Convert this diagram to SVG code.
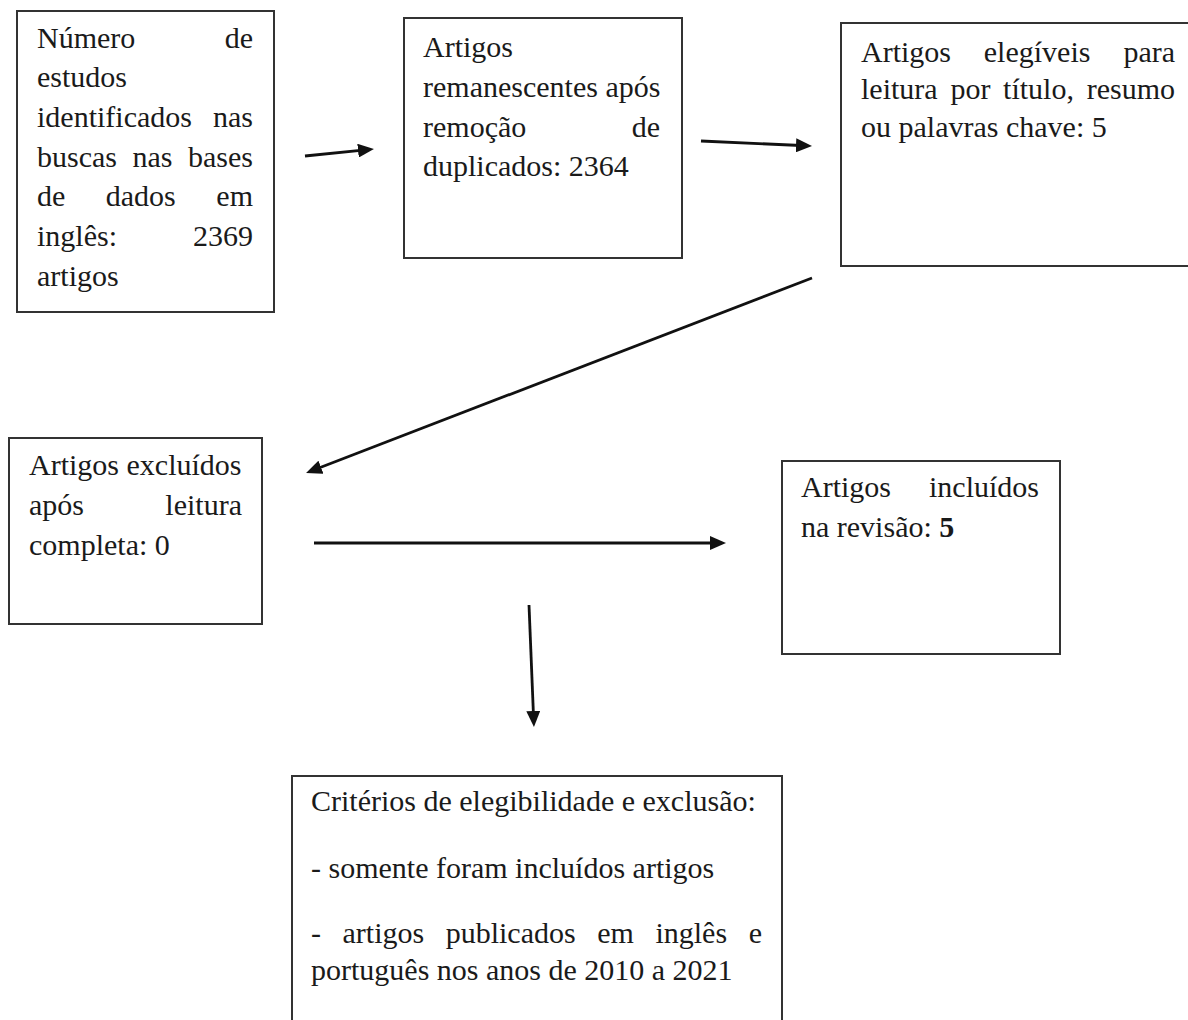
<svg xmlns="http://www.w3.org/2000/svg" width="1188" height="1020" viewBox="0 0 1188 1020">
<style>
.box{fill:#fff;stroke:#333;stroke-width:2}
.t{font-family:"Liberation Serif","Times New Roman",serif;font-size:30px;fill:#1a1a1a}
.e{text-anchor:end}
.c{stroke:#111;stroke-width:2.8;fill:none;marker-end:url(#ah)}
</style>
<defs>
<marker id="ah" viewBox="0 0 16 14" refX="5" refY="7" markerWidth="16" markerHeight="14" markerUnits="userSpaceOnUse" orient="auto">
<path d="M0,0 L16,7 L0,14 z" fill="#111"/>
</marker>
</defs>
<rect width="1188" height="1020" fill="#fff"/>
<g id="n1">
<rect class="box" x="17" y="11" width="257" height="301"/>
<text class="t" x="37" y="48">Número</text><text class="t e" x="253" y="48">de</text>
<text class="t" x="37" y="87">estudos</text>
<text class="t" x="37" y="127">identificados</text><text class="t e" x="253" y="127">nas</text>
<text class="t" x="37" y="167">buscas</text><text class="t" x="132.5" y="167">nas</text><text class="t e" x="253" y="167">bases</text>
<text class="t" x="37" y="206">de</text><text class="t" x="105.8" y="206">dados</text><text class="t e" x="253" y="206">em</text>
<text class="t" x="37" y="246">inglês:</text><text class="t e" x="253" y="246">2369</text>
<text class="t" x="37" y="286">artigos</text>
</g>
<g id="n2">
<rect class="box" x="404" y="18" width="278" height="240"/>
<text class="t" x="423" y="57">Artigos</text>
<text class="t" x="423" y="97">remanescentes após</text>
<text class="t" x="423" y="137">remoção</text><text class="t e" x="660" y="137">de</text>
<text class="t" x="423" y="176">duplicados: 2364</text>
</g>
<g id="n3">
<rect class="box" x="841" y="23" width="360" height="243"/>
<text class="t" x="861" y="62">Artigos</text><text class="t" x="983.8" y="62">elegíveis</text><text class="t e" x="1175" y="62">para</text>
<text class="t" x="861" y="99">leitura</text><text class="t" x="950.4" y="99">por</text><text class="t" x="1003.1" y="99">título,</text><text class="t e" x="1175" y="99">resumo</text>
<text class="t" x="861" y="137">ou palavras chave: 5</text>
</g>
<g id="n4">
<rect class="box" x="9" y="438" width="253" height="186"/>
<text class="t" x="29" y="475">Artigos excluídos</text>
<text class="t" x="29" y="515">após</text><text class="t e" x="242" y="515">leitura</text>
<text class="t" x="29" y="555">completa: 0</text>
</g>
<g id="n5">
<rect class="box" x="782" y="461" width="278" height="193"/>
<text class="t" x="801" y="497">Artigos</text><text class="t e" x="1039" y="497">incluídos</text>
<text class="t" x="801" y="537">na revisão: <tspan font-weight="bold">5</tspan></text>
</g>
<g id="n6">
<rect class="box" x="292" y="776" width="490" height="300"/>
<text class="t" x="311" y="811">Critérios de elegibilidade e exclusão:</text>
<text class="t" x="311" y="878">- somente foram incluídos artigos</text>
<text class="t" x="311" y="943">-</text><text class="t" x="342.5" y="943">artigos</text><text class="t" x="445.7" y="943">publicados</text><text class="t" x="597.2" y="943">em</text><text class="t" x="655.4" y="943">inglês</text><text class="t e" x="762" y="943">e</text>
<text class="t" x="311" y="980">português nos anos de 2010 a 2021</text>
</g>
<g id="connectors">
<line class="c" x1="305" y1="156" x2="363" y2="150.1"/>
<line class="c" x1="701" y1="141" x2="801" y2="145.5"/>
<line class="c" x1="812" y1="278" x2="316.3" y2="469"/>
<line class="c" x1="314" y1="543" x2="715" y2="543"/>
<line class="c" x1="529" y1="605" x2="533.5" y2="716"/>
</g>
</svg>
